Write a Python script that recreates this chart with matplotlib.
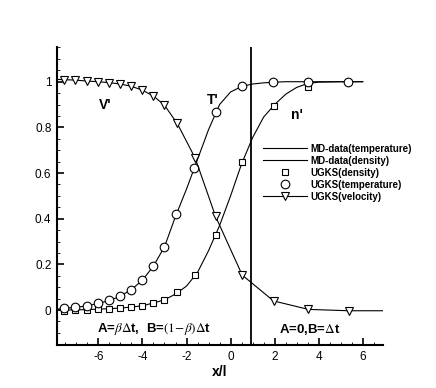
import numpy as np
import matplotlib
matplotlib.use("Agg")
import matplotlib.pyplot as plt
from matplotlib.ticker import MultipleLocator

plt.rcParams['font.family'] = ['Liberation Sans', 'DejaVu Sans']
plt.rcParams['mathtext.fontset'] = 'stix'
plt.rcParams['axes.unicode_minus'] = False

# UGKS sample points
ugks_x = [-7.56, -7.05, -6.53, -6.02, -5.52, -5.01, -4.51, -4.0, -3.5, -3.0,
          -2.42, -1.6, -0.68, 0.53, 1.95, 3.53, 5.36]
ugks_density = [-0.003, -0.001, 0.002, 0.004, 0.006, 0.009, 0.013, 0.019, 0.032, 0.045,
                0.077, 0.153, 0.328, 0.649, 0.893, 0.977]
ugks_density_x = ugks_x[:16]
ugks_temperature = [0.007, 0.012, 0.019, 0.029, 0.042, 0.061, 0.09, 0.131, 0.193, 0.277,
                    0.42, 0.624, 0.868, 0.98, 0.999, 1.0, 1.0]
ugks_temperature_x = [-7.56, -7.05, -6.53, -6.02, -5.52, -5.01, -4.51, -4.0, -3.5, -3.0,
                      -2.48, -1.65, -0.68, 0.53, 1.94, 3.53, 5.35]

# velocity line runs edge to edge, markers only on the UGKS points
vel_x = [-7.85] + ugks_x + [6.9]
vel = [1.01, 1.009, 1.007, 1.003, 1.0, 0.996, 0.99, 0.98, 0.963, 0.937, 0.897,
       0.817, 0.664, 0.41, 0.153, 0.04, 0.003, -0.003, -0.003]

# MD data
md_x = [-7.85, -7.5, -7.0, -6.5, -6.0, -5.5, -5.0, -4.5, -4.0, -3.5, -3.0, -2.5, -2.0,
        -1.5, -1.0, -0.5, 0.0, 0.5, 1.0, 1.5, 2.0, 2.5, 3.0, 3.5, 4.0, 5.0, 6.0]
md_temperature = [0.004, 0.008, 0.012, 0.019, 0.029, 0.042, 0.061, 0.09, 0.131, 0.193,
                  0.277, 0.41, 0.53, 0.66, 0.79, 0.9, 0.955, 0.979, 0.99, 0.995, 0.998,
                  1.0, 1.0, 1.0, 1.0, 1.0, 1.0]
md_density = [0.0, 0.0, 0.001, 0.002, 0.004, 0.006, 0.009, 0.013, 0.019, 0.031, 0.045,
              0.07, 0.105, 0.165, 0.26, 0.37, 0.5, 0.64, 0.755, 0.845, 0.9, 0.945, 0.975,
              0.992, 0.998, 1.0, 1.0]

interface_x = 0.95

fig = plt.figure(figsize=(4.36, 3.88), dpi=100)
ax = fig.add_axes([57 / 436, 1 - 345 / 388, 326 / 436, 298 / 388])

lw = 0.8
h_mdt, = ax.plot(md_x, md_temperature, color='black', lw=lw, label='MD-data(temperature)')
h_mdd, = ax.plot(md_x, md_density, color='black', lw=lw, label='MD-data(density)')
h_ud, = ax.plot(ugks_density_x, ugks_density, ls='none', marker='s', ms=4.5, mfc='white',
                mec='black', mew=0.8, label='UGKS(density)')
h_ut, = ax.plot(ugks_temperature_x, ugks_temperature, ls='none', marker='o', ms=6.2,
                mfc='white', mec='black', mew=0.8, label='UGKS(temperature)')
h_uv, = ax.plot(vel_x, vel, color='black', lw=lw, marker='v', ms=5.6, mfc='white',
                mec='black', mew=0.8, markevery=slice(1, -1), label='UGKS(velocity)')

ax.axvline(interface_x, color='black', lw=1.3)

ax.set_xlim(-7.88, 6.92)
ax.set_ylim(-0.153, 1.152)

for side in ['top', 'right']:
    ax.spines[side].set_visible(False)
for side in ['left', 'bottom']:
    ax.spines[side].set_linewidth(1.5)

ax.xaxis.set_major_locator(MultipleLocator(2))
ax.xaxis.set_minor_locator(MultipleLocator(0.5))
ax.yaxis.set_major_locator(MultipleLocator(0.2))
ax.yaxis.set_minor_locator(MultipleLocator(0.05))
ax.yaxis.set_major_formatter(matplotlib.ticker.FuncFormatter(
    lambda v, p: '0' if abs(v) < 1e-9 else ('1' if abs(v - 1) < 1e-9 else f'{v:.1f}')))
ax.tick_params(which='major', direction='in', length=5, width=1.2, labelsize=8.5, pad=4)
ax.tick_params(which='minor', direction='in', length=2.5, width=0.6)
ax.tick_params(top=False, right=False, which='both')

ax.set_xlabel('x/l', fontsize=10, fontweight='bold', labelpad=2)

ax.text(-5.7, 0.897, "V'", fontsize=10, fontweight='bold', ha='center', va='center')
ax.text(-0.83, 0.919, "T'", fontsize=10, fontweight='bold', ha='center', va='center')
ax.text(3.03, 0.853, "n'", fontsize=10, fontweight='bold', ha='center', va='center')
ax.text(-6.07, -0.083, r"A=$\beta\Delta$t,  B=$(1\!-\!\beta)\Delta$t", fontsize=9.5,
        fontweight='bold', ha='left', va='center')
ax.text(2.21, -0.083, r"A=0,B=$\Delta$t", fontsize=9.5, fontweight='bold',
        ha='left', va='center')

ax.legend(handles=[h_mdt, h_mdd, h_ud, h_ut, h_uv], loc='upper left',
          bbox_to_anchor=(0.632, 0.675), frameon=False, borderpad=0, borderaxespad=0,
          handlelength=4.5, handletextpad=0.4, labelspacing=0.2,
          prop={'size': 7, 'weight': 'bold'})

fig.savefig('out.png', dpi=100)
